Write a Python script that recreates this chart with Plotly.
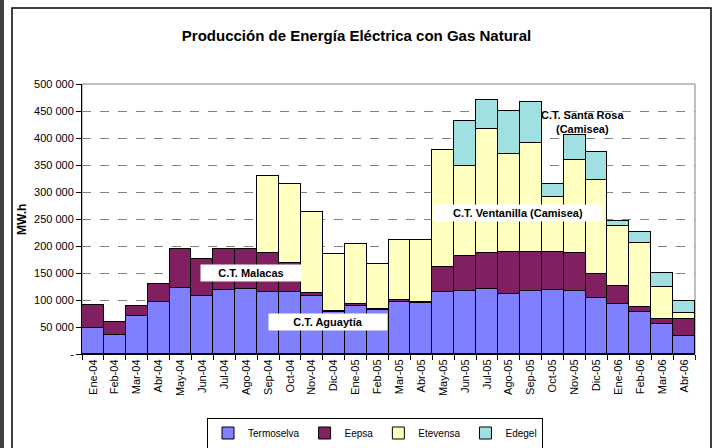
import plotly.graph_objects as go

months = ["Ene-04","Feb-04","Mar-04","Abr-04","May-04","Jun-04","Jul-04","Ago-04",
          "Sep-04","Oct-04","Nov-04","Dic-04","Ene-05","Feb-05","Mar-05","Abr-05",
          "May-05","Jun-05","Jul-05","Ago-05","Sep-05","Oct-05","Nov-05","Dic-05",
          "Ene-06","Feb-06","Mar-06","Abr-06"]

termoselva = [49000, 36000, 70000, 96000, 123000, 107000, 119000, 121000,
              114000, 114000, 107000, 78000, 88000, 81000, 97000, 94000,
              114000, 116500, 121000, 112000, 116500, 119000, 117000, 103500,
              93000, 78000, 55500, 34000]
eepsa = [42000, 24000, 19000, 34000, 72000, 69000, 76000, 74000,
         73000, 55000, 6000, 1000, 5000, 2500, 3500, 3000,
         48000, 65500, 66500, 76500, 72000, 69500, 70500, 44000,
         33000, 8500, 9000, 31500]
etevensa = [0, 0, 0, 0, 0, 0, 0, 0,
            143000, 145000, 150000, 106000, 111000, 83000, 110000, 115000,
            216000, 167000, 229000, 181000, 203000, 102000, 171500, 174000,
            111500, 118500, 60500, 10000]
edegel = [0, 0, 0, 0, 0, 0, 0, 0,
          0, 0, 0, 0, 0, 0, 0, 0,
          0, 83000, 53000, 80000, 76000, 23500, 47000, 52000,
          8000, 21000, 25500, 23500]

y_ticks = [0, 50000, 100000, 150000, 200000, 250000, 300000, 350000, 400000, 450000, 500000]
y_labels = ["-", "50 000", "100 000", "150 000", "200 000", "250 000", "300 000",
            "350 000", "400 000", "450 000", "500 000"]

series = [("Termoselva", termoselva, "#8080FF"),
          ("Eepsa", eepsa, "#802060"),
          ("Etevensa", etevensa, "#FFFFC0"),
          ("Edegel", edegel, "#A0E0E0")]

fig = go.Figure()
for name, vals, col in series:
    fig.add_trace(go.Bar(x=months, y=vals, name=name,
                         marker=dict(color=col, line=dict(color="black", width=1))))

FONT = "Liberation Sans, Arial, sans-serif"
W, H = 717, 448
L, R, T, B = 82, 22, 84, 94
pw, ph = W - L - R, H - T - B

def px(x):
    return (x - L) / pw

def py(y):
    return (H - B - y) / ph

fig.update_layout(
    width=W, height=H,
    margin=dict(l=L, r=R, t=T, b=B, autoexpand=False),
    barmode="stack", bargap=0,
    paper_bgcolor="white", plot_bgcolor="white",
    font=dict(family=FONT, size=11, color="black"),
    title=dict(text="<b>Producción de Energía Eléctrica con Gas Natural</b>",
               x=(183 + 530) / 2 / W, xanchor="center", y=1 - 36 / H, yanchor="middle",
               font=dict(size=15, family=FONT, color="black")),
    showlegend=True,
    legend=dict(orientation="h", x=px(375), xanchor="center", y=py(433), yanchor="middle",
                bordercolor="black", borderwidth=1, bgcolor="white",
                font=dict(size=10, family=FONT), traceorder="normal",
                itemwidth=30),
    xaxis=dict(type="category", tickangle=-90, showline=True, linecolor="black", linewidth=1,
               ticks="outside", ticklen=5, tickcolor="black", tickson="boundaries",
               showgrid=False, tickfont=dict(size=11), automargin=False),
    yaxis=dict(range=[0, 500000], tickvals=y_ticks, ticktext=y_labels,
               showline=True, linecolor="black", linewidth=1, ticks="outside", ticklen=5,
               tickcolor="black", showgrid=True, gridcolor="#808080", griddash="dash",
               gridwidth=1, zeroline=False, tickfont=dict(size=11), automargin=False),
)

shapes = [
    # outer frame
    dict(type="rect", xref="paper", yref="paper", x0=px(12), x1=px(711), y0=py(460), y1=py(8),
         line=dict(color="black", width=1.5), layer="below"),
    # dark stripe at left
    dict(type="rect", xref="paper", yref="paper", x0=px(-2), x1=px(4), y0=py(460), y1=py(-5),
         line=dict(width=0), fillcolor="#404040", layer="below"),
    # plot area border (gray)
    dict(type="rect", xref="paper", yref="paper", x0=0, x1=1, y0=0, y1=1,
         line=dict(color="#808080", width=1), layer="below"),
]
fig.update_layout(shapes=shapes)

ann = []
ann.append(dict(text="<b>MW.h</b>", xref="paper", yref="paper", x=px(22), y=py(220),
                xanchor="center", yanchor="middle",
                showarrow=False, textangle=-90, font=dict(size=12, family=FONT)))

def label(text, cx, cy, x0, x1, bg=True):
    d = dict(text="<b>" + text + "</b>", xref="paper", yref="paper", x=px(cx), y=py(cy),
             showarrow=False, font=dict(size=11, family=FONT, color="black"),
             xanchor="center", yanchor="middle")
    if bg:
        d.update(bgcolor="white", width=x1 - x0, borderpad=2)
    return d

ann.append(label("C.T. Malacas", 251, 273, 203, 299))
ann.append(label("C.T. Aguaytía", 328, 322, 271, 385))
ann.append(label("C.T. Ventanilla (Camisea)", 518, 213, 436, 600))
ann.append(dict(text="<b>C.T. Santa Rosa<br>(Camisea)</b>", xref="paper", yref="paper",
                x=px(582), y=py(122), showarrow=False, align="center",
                xanchor="center", yanchor="middle",
                font=dict(size=11, family=FONT, color="black")))
fig.update_layout(annotations=ann)

fig.write_html("out.html", config={"displayModeBar": False},
               post_script="document.body.style.margin='0';document.body.style.overflow='hidden';")
